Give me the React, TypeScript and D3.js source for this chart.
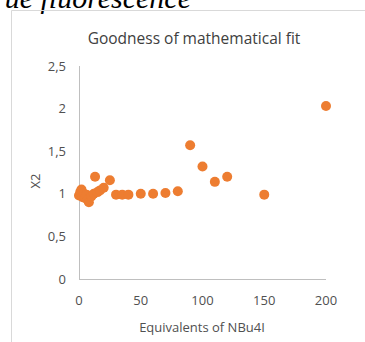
import React from "react";
import * as d3 from "d3";

const equivalents = [0, 1, 2, 3, 4, 5, 6, 7, 8, 10, 12, 13, 15, 17, 20, 25, 30, 35, 40, 50, 60, 70, 80, 90, 100, 110, 120, 150, 200];
const chi2 = [0.98, 1.02, 1.05, 0.96, 1.0, 0.95, 0.99, 0.93, 0.9, 0.97, 1.0, 1.2, 1.02, 1.04, 1.07, 1.16, 0.99, 0.99, 0.99, 1.0, 1.0, 1.01, 1.03, 1.57, 1.32, 1.14, 1.2, 0.99, 2.03];
const xTicks = [0, 50, 100, 150, 200];
const yTicks = [0, 0.5, 1, 1.5, 2, 2.5];
const yTickLabels = ["0", "0,5", "1", "1,5", "2", "2,5"];
const title = "Goodness of mathematical fit";
const xTitle = "Equivalents of NBu4I";
const yTitle = "X2";
const topText = "ue fluorescence";

export default function App() {
  const W = 365, H = 342;
  const x = d3.scaleLinear().domain([0, 200]).range([79, 326]);
  const y = d3.scaleLinear().domain([0, 2.5]).range([279, 66]);
  const font = "'Open Sans', 'Noto Sans', sans-serif";
  const grey = "#505050";
  return (
    <svg width={W} height={H} style={{ position: "absolute", left: 0, top: 0, background: "#fff" }}>
      <text x={191} y={8} textAnchor="end" fontFamily="'Liberation Serif', serif" fontStyle="italic" fontSize={30} fill="#000">{topText}</text>
      <line x1={11.5} y1={10.5} x2={W} y2={10.5} stroke="#D9D9D9" />
      <line x1={11.5} y1={10.5} x2={11.5} y2={H} stroke="#D9D9D9" />
      <text x={194} y={44} textAnchor="middle" fontFamily={font} fontSize={15.5} fill="#404040">{title}</text>
      <line x1={x(0)} y1={y(0) + 0.5} x2={x(200)} y2={y(0) + 0.5} stroke="#BFBFBF" />
      <line x1={x(0) + 0.5} y1={y(2.5)} x2={x(0) + 0.5} y2={y(0)} stroke="#BFBFBF" />
      {xTicks.map((t) => (
        <text key={t} x={x(t)} y={305} textAnchor="middle" fontFamily={font} fontSize={13} fill={grey}>{t}</text>
      ))}
      {yTicks.map((t, i) => (
        <text key={t} x={66} y={y(t) + 4.5} textAnchor="end" fontFamily={font} fontSize={13} fill={grey}>{yTickLabels[i]}</text>
      ))}
      <text x={202} y={332} textAnchor="middle" fontFamily={font} fontSize={13} fill={grey}>{xTitle}</text>
      <text transform={`translate(40,${181}) rotate(-90)`} textAnchor="middle" fontFamily={font} fontSize={13} fill={grey}>{yTitle}</text>
      {equivalents.map((e, i) => (
        <circle key={i} cx={x(e)} cy={y(chi2[i])} r={5} fill="#ED7D31" />
      ))}
    </svg>
  );
}
